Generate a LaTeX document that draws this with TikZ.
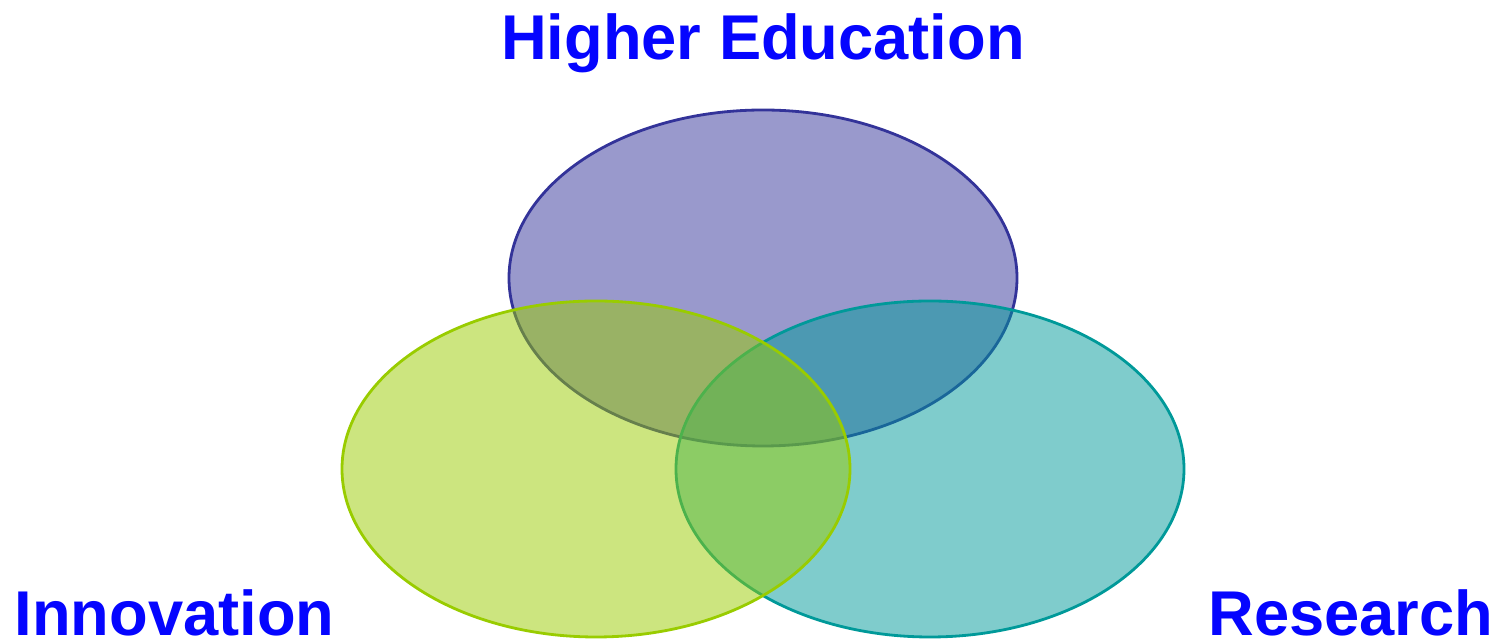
\documentclass[tikz,border=0pt]{standalone}
\usepackage{fontspec}
\setmainfont{Liberation Sans}
\usepackage{xcolor}
\usepackage{tikz}
\usetikzlibrary{positioning}
\usetikzlibrary{shapes.geometric}
\definecolor{edupurple}{HTML}{333399}
\definecolor{resteal}{HTML}{009999}
\definecolor{innogreen}{HTML}{99CC00}
\definecolor{labelblue}{HTML}{0505FF}

\begin{document}
\begin{tikzpicture}[
setnode/.style={ellipse, draw=#1, fill=#1, fill opacity=0.5, draw opacity=1, line width=0.8pt, minimum width=5.08cm, minimum height=3.36cm, inner sep=0pt},
labelnode/.style={inner sep=0pt, text=labelblue, font=\fontsize{18}{20}\selectfont\bfseries},
]
\useasboundingbox (0,0) rectangle (15.03,6.41);
%Sets
\node[setnode=edupurple]	(edu)		at (7.63,3.63)		{};
\node[setnode=resteal]		(res)		at (9.30,1.72)		{};
\node[setnode=innogreen]	(inno)		at (5.96,1.72)		{};

%Labels
\node[labelnode, anchor=base]		(edulabel)		at (7.63,5.81)		{Higher Education};
\node[labelnode, anchor=base west]	(innolabel)		at (0.14,0.05)		{Innovation};
\node[labelnode, anchor=base east]	(reslabel)		at (14.94,0.05)		{Research};
\end{tikzpicture}
\end{document}
